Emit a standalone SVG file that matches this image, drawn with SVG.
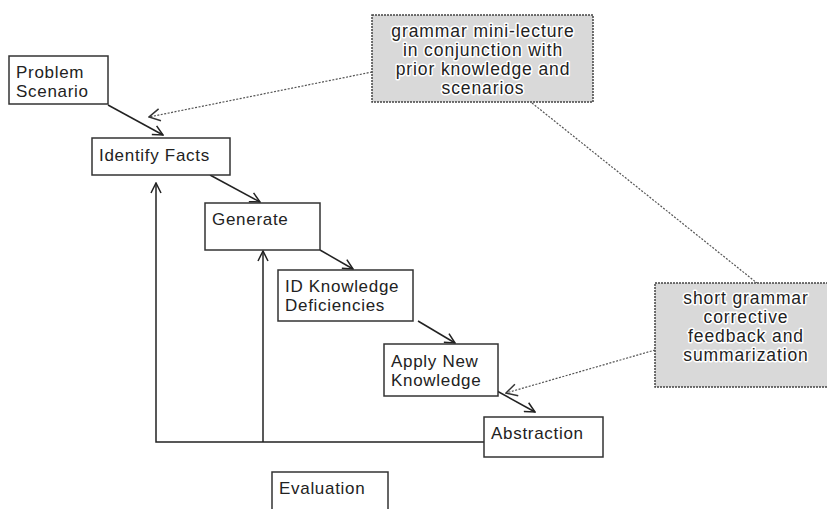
<svg xmlns="http://www.w3.org/2000/svg" width="827" height="509" viewBox="0 0 827 509">
<style>
.box{fill:#fff;stroke:#333;stroke-width:1.5}
.note{fill:#d9d9d9;stroke:#444;stroke-width:1.5;stroke-dasharray:2 1}
.t{font-family:"Liberation Sans",Arial,sans-serif;font-size:17px;letter-spacing:0.7px;fill:#222}
.nt{font-family:"Liberation Sans",Arial,sans-serif;font-size:17.5px;letter-spacing:0.9px;fill:#222;text-anchor:middle;stroke:#fff;stroke-width:3;paint-order:stroke;stroke-linejoin:round}
.c{fill:none;stroke:#222;stroke-width:1.5}
.d{fill:none;stroke:#555;stroke-width:1.2;stroke-dasharray:2 1.5}
</style>
<defs>
<marker id="a" viewBox="0 0 12 12" refX="11" refY="6" markerWidth="12" markerHeight="12" markerUnits="userSpaceOnUse" orient="auto">
<path d="M1,1 L11,6 L1,11" fill="none" stroke="#222" stroke-width="1.5"/>
</marker>
<marker id="ad" viewBox="0 0 14 14" refX="13" refY="7" markerWidth="14" markerHeight="14" markerUnits="userSpaceOnUse" orient="auto">
<path d="M2,1 L13,7 L2,13" fill="none" stroke="#333" stroke-width="1.5"/>
</marker>
</defs>
<g id="connectors">
<path class="c" d="M108,105 L163,135" marker-end="url(#a)"/>
<path class="c" d="M210,175 L260,202" marker-end="url(#a)"/>
<path class="c" d="M320,250 L353,269" marker-end="url(#a)"/>
<path class="c" d="M418,321 L455,343" marker-end="url(#a)"/>
<path class="c" d="M497,391 L535,412" marker-end="url(#a)"/>
<path class="c" d="M484,442 L156,442 L156,183" marker-end="url(#a)"/>
<path class="c" d="M263,442 L263,251" marker-end="url(#a)"/>
<path class="d" d="M372,72 L149,117" marker-end="url(#ad)"/>
<path class="d" d="M532,103 L757,283"/>
<path class="d" d="M655,350 L506,393" marker-end="url(#ad)"/>
</g>
<g id="problem-scenario">
<rect class="box" x="9" y="56" width="99" height="48"/>
<text class="t" x="16" y="78">Problem</text>
<text class="t" x="16" y="97">Scenario</text>
</g>
<g id="identify-facts">
<rect class="box" x="92" y="138" width="138" height="37"/>
<text class="t" x="99" y="161">Identify Facts</text>
</g>
<g id="generate">
<rect class="box" x="205" y="203" width="115" height="47"/>
<text class="t" x="212" y="225">Generate</text>
</g>
<g id="id-knowledge">
<rect class="box" x="278" y="270" width="135" height="51"/>
<text class="t" x="285" y="292">ID Knowledge</text>
<text class="t" x="285" y="311">Deficiencies</text>
</g>
<g id="apply-new">
<rect class="box" x="384" y="344" width="114" height="52"/>
<text class="t" x="391" y="367">Apply New</text>
<text class="t" x="391" y="386">Knowledge</text>
</g>
<g id="abstraction">
<rect class="box" x="484" y="417" width="119" height="40"/>
<text class="t" x="491" y="439">Abstraction</text>
</g>
<g id="evaluation">
<rect class="box" x="272" y="472" width="116" height="45"/>
<text class="t" x="279" y="494">Evaluation</text>
</g>
<g id="note-lecture">
<rect class="note" x="372" y="15" width="221" height="87"/>
<text class="nt" x="483" y="37">grammar mini-lecture</text>
<text class="nt" x="483" y="56">in conjunction with</text>
<text class="nt" x="483" y="75">prior knowledge and</text>
<text class="nt" x="483" y="94">scenarios</text>
</g>
<g id="note-feedback">
<rect class="note" x="655" y="283" width="175" height="104"/>
<text class="nt" x="746" y="304">short grammar</text>
<text class="nt" x="746" y="323">corrective</text>
<text class="nt" x="746" y="342">feedback and</text>
<text class="nt" x="746" y="361">summarization</text>
</g>
</svg>
